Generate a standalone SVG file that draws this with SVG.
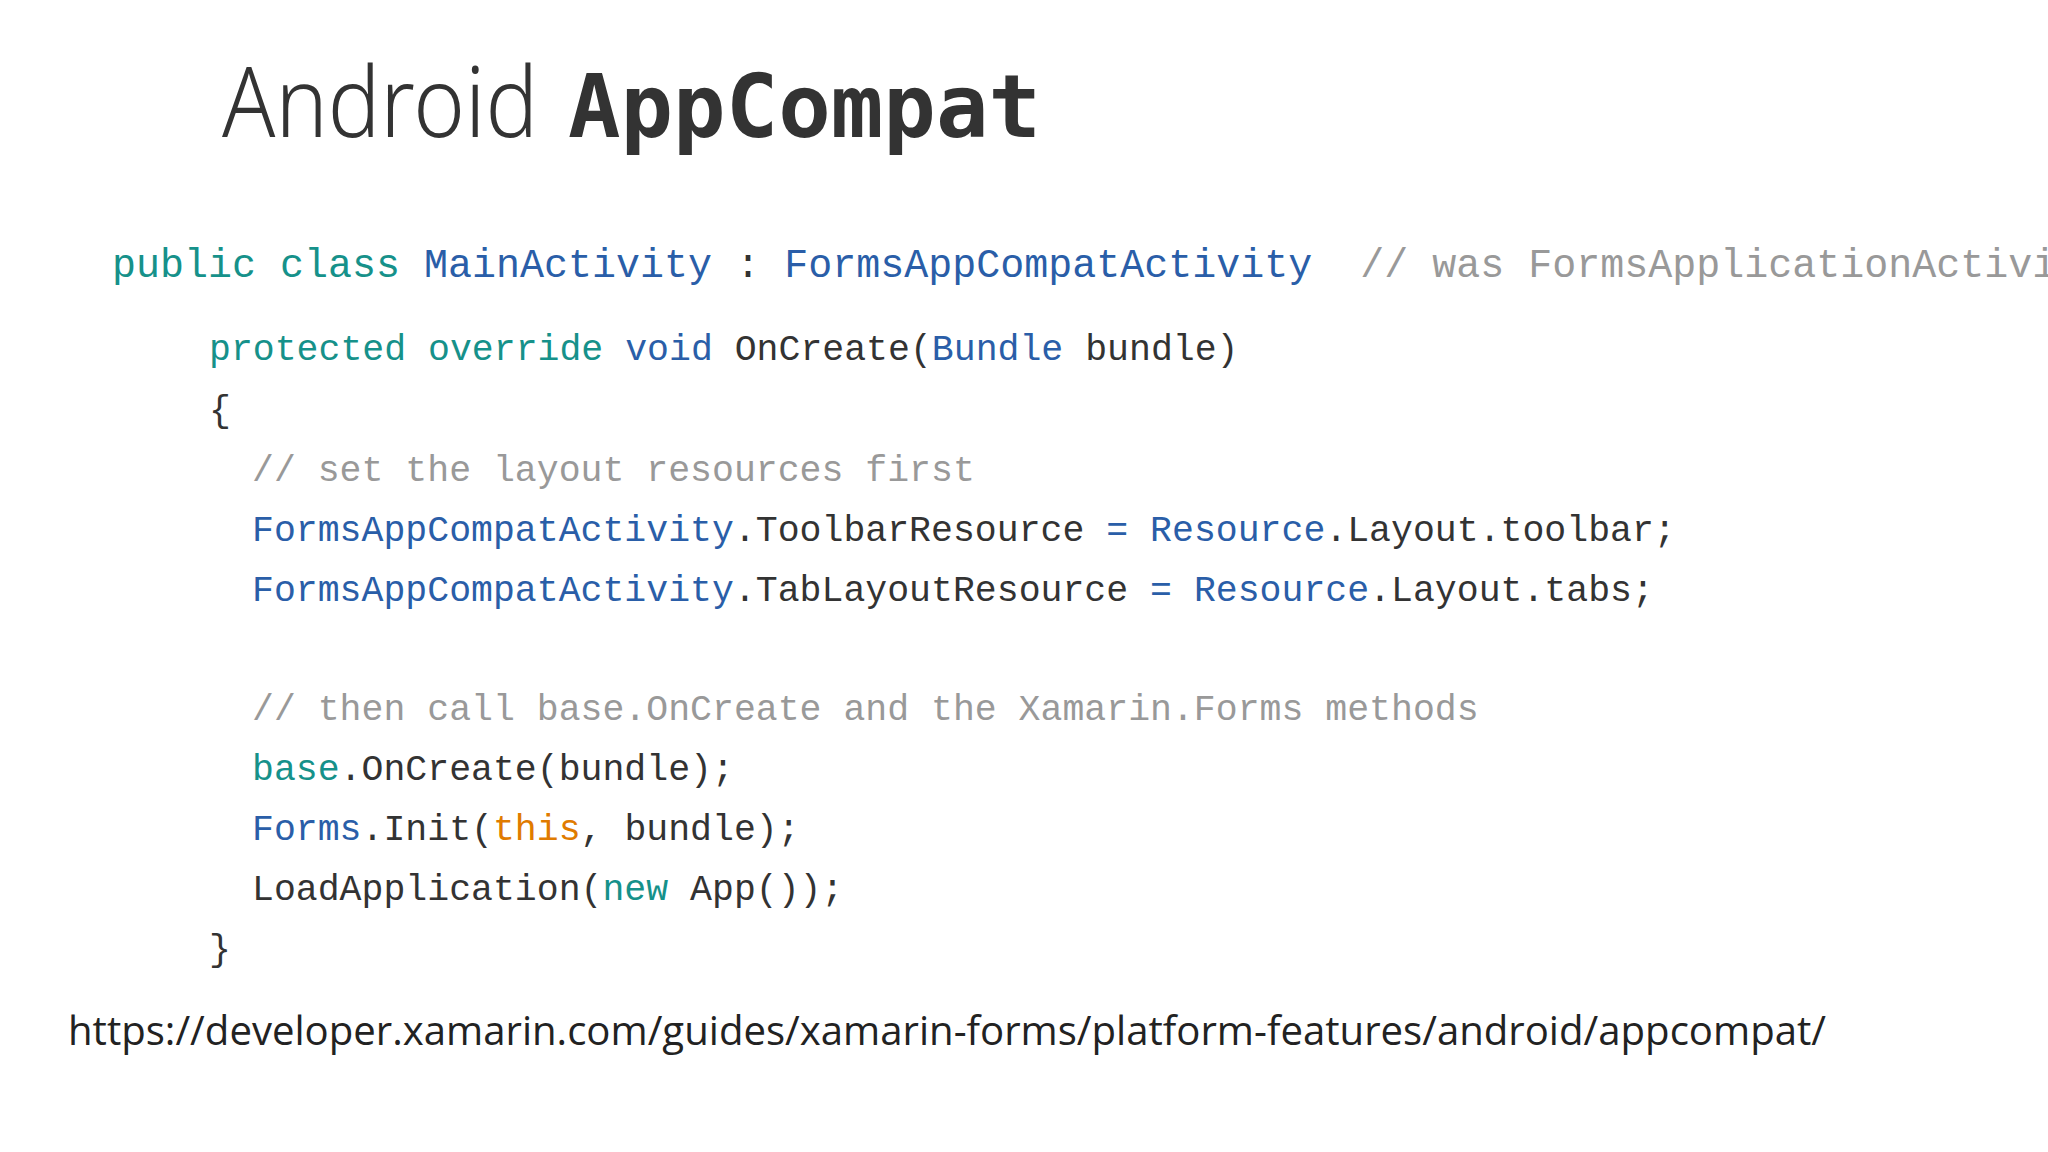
<svg xmlns="http://www.w3.org/2000/svg" width="2048" height="1152" viewBox="0 0 2048 1152">
<style>
.c{font-family:"Liberation Mono","DejaVu Sans Mono",monospace;font-size:36.5px;fill:#333;white-space:pre}
.k{fill:#16918a}.t{fill:#2a5ea8}.m{fill:#999}.o{fill:#e07b00}
</style>
<rect width="2048" height="1152" fill="#fff"/>
<g id="title">
<text x="222" y="137" font-family="Noto Sans, sans-serif" font-weight="300" font-size="98" fill="#333" textLength="316" lengthAdjust="spacingAndGlyphs">Android</text>
<text x="568" y="137" font-family="DejaVu Sans Mono, monospace" font-weight="bold" font-size="88" fill="#333" textLength="473" lengthAdjust="spacingAndGlyphs">AppCompat</text>
</g>
<g id="code">
<text class="c" x="112" y="277" style="font-size:40px"><tspan class="k">public class </tspan><tspan class="t">MainActivity</tspan> : <tspan class="t">FormsAppCompatActivity</tspan>  <tspan class="m">// was FormsApplicationActivity</tspan></text>
<text class="c" x="209" y="360"><tspan class="k">protected override </tspan><tspan class="t">void </tspan>OnCreate(<tspan class="t">Bundle</tspan> bundle)</text>
<text class="c" x="209" y="421">{</text>
<text class="c m" x="252" y="481">// set the layout resources first</text>
<text class="c" x="252" y="541"><tspan class="t">FormsAppCompatActivity</tspan>.ToolbarResource <tspan class="t">=</tspan> <tspan class="t">Resource</tspan>.Layout.toolbar;</text>
<text class="c" x="252" y="601"><tspan class="t">FormsAppCompatActivity</tspan>.TabLayoutResource <tspan class="t">=</tspan> <tspan class="t">Resource</tspan>.Layout.tabs;</text>
<text class="c m" x="252" y="720">// then call base.OnCreate and the Xamarin.Forms methods</text>
<text class="c" x="252" y="780"><tspan class="k">base</tspan>.OnCreate(bundle);</text>
<text class="c" x="252" y="840"><tspan class="t">Forms</tspan>.Init(<tspan class="o">this</tspan>, bundle);</text>
<text class="c" x="252" y="900">LoadApplication(<tspan class="k">new</tspan> App());</text>
<text class="c" x="209" y="960">}</text>
</g>
<g id="url">
<text x="68" y="1045" font-family="Open Sans, sans-serif" font-size="40" fill="#222" textLength="1758" lengthAdjust="spacingAndGlyphs">https://developer.xamarin.com/guides/xamarin-forms/platform-features/android/appcompat/</text>
</g>
</svg>
